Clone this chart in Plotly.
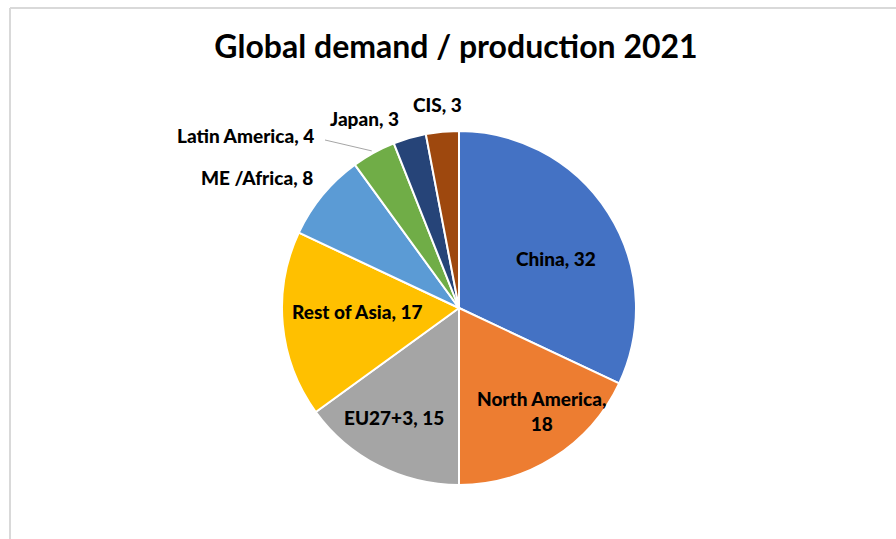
import math
import plotly.graph_objects as go

W, H = 896, 539

# ---- data ----
regions = ["China", "North America", "EU27+3", "Rest of Asia", "ME /Africa",
           "Latin America", "Japan", "CIS"]
shares = [32, 18, 15, 17, 8, 4, 3, 3]
colors = ["#4472C4", "#ED7D31", "#A5A5A5", "#FFC000", "#5B9BD5",
          "#70AD47", "#264478", "#9E480E"]
title_text = "Global demand / production 2021"

# ---- layout / style (pixels) ----
cx, cy, R = 459, 308, 177
# label centre positions in px
label_pos = {
    "China": (556, 258),
    "North America": (541, 411),
    "EU27+3": (394, 417),
    "Rest of Asia": (357, 311),
    "ME /Africa": (257, 177),
    "Latin America": (245, 136),
    "Japan": (364, 118),
    "CIS": (437, 105),
}
label_break = {"North America": True}
LABEL_FONT = dict(family="Lato, 'DejaVu Sans', sans-serif", size=19, color="#000000",
                  weight=900)


def px(x):
    return x / W


def py(y):
    return 1 - y / H


fig = go.Figure(go.Pie(
    labels=regions,
    values=shares,
    sort=False,
    direction="clockwise",
    rotation=0,
    marker=dict(colors=colors, line=dict(color="#FFFFFF", width=2)),
    textinfo="none",
    hoverinfo="label+value",
    domain=dict(x=[px(cx - R), px(cx + R)], y=[py(cy + R), py(cy - R)]),
    showlegend=False,
))

annotations = []
for name, v in zip(regions, shares):
    sep = ",<br>" if label_break.get(name) else ", "
    x, y = label_pos[name]
    annotations.append(dict(
        x=px(x), y=py(y), xref="paper", yref="paper",
        text=f"{name}{sep}{v}", showarrow=False,
        xanchor="center", yanchor="middle", font=LABEL_FONT, align="center",
    ))

# leader line for Latin America: from label end to the slice's outer edge mid-angle
total = sum(shares)
cum = 0
shapes = []
for name, v in zip(regions, shares):
    mid = (cum + v / 2) / total * 2 * math.pi
    cum += v
    if name == "Latin America":
        ex = cx + R * math.sin(mid)
        ey = cy - R * math.cos(mid)
        sx, sy = 325, 140
        shapes.append(dict(type="line", xref="paper", yref="paper",
                           x0=px(sx), y0=py(sy), x1=px(ex - 2), y1=py(ey - 2),
                           line=dict(color="#A6A6A6", width=1)))

# chart border (top and left visible)
shapes.append(dict(type="line", xref="paper", yref="paper",
                   x0=px(10), y0=py(8), x1=px(W + 5), y1=py(8),
                   line=dict(color="#D9D9D9", width=2)))
shapes.append(dict(type="line", xref="paper", yref="paper",
                   x0=px(10), y0=py(8), x1=px(10), y1=py(H + 5),
                   line=dict(color="#D9D9D9", width=2)))

fig.update_layout(
    width=W, height=H,
    margin=dict(l=0, r=0, t=0, b=0),
    paper_bgcolor="#FFFFFF",
    plot_bgcolor="#FFFFFF",
    title=dict(text=f"<b>{title_text}</b>", x=px(456), y=py(47),
               xanchor="center", yanchor="middle", xref="paper", yref="paper",
               font=dict(family="Lato, 'DejaVu Sans', sans-serif", size=32, color="#000000")),
    annotations=annotations,
    shapes=shapes,
)

fig.write_html("out.html")
